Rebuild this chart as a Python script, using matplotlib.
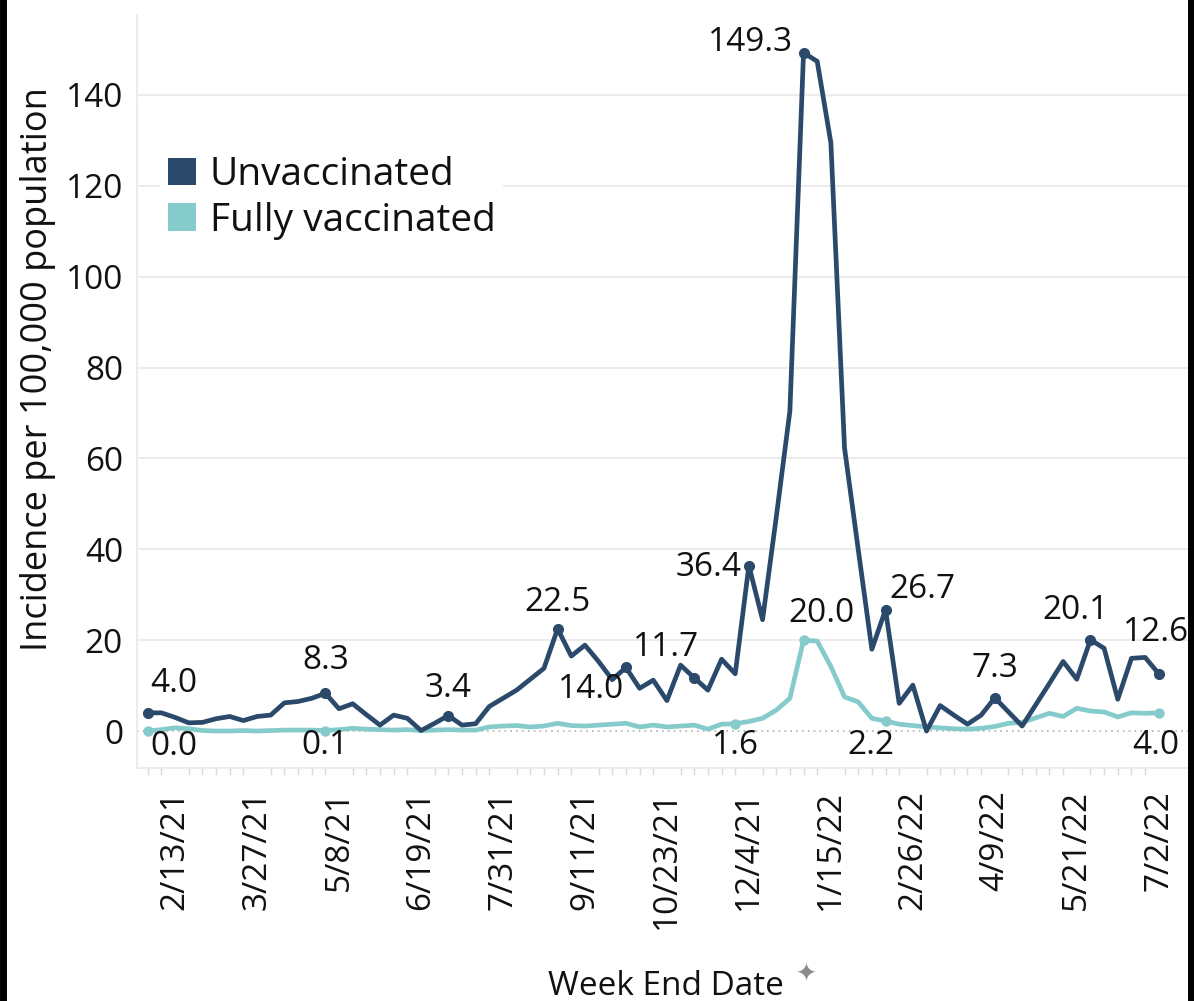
import numpy as np
import pandas as pd
import matplotlib
matplotlib.use("Agg")
import matplotlib.pyplot as plt
from matplotlib.patches import Patch
from matplotlib.lines import Line2D

plt.rcParams['font.family'] = ['Open Sans', 'DejaVu Sans']

# weekly incidence per 100,000 population, weeks ending 1/30/21 .. 7/2/22
first_week = '2021-01-30'
unvaccinated = [4.0, 4.0, 3.0, 1.8, 1.9, 2.7, 3.2, 2.3, 3.2, 3.5,
                6.2, 6.5, 7.2, 8.3, 4.9, 6.0, 3.6, 1.3, 3.5, 2.8,
                0.1, 1.7, 3.4, 1.3, 1.6, 5.4, 7.2, 9.0, 11.4, 13.8,
                22.5, 16.5, 18.9, 15.3, 11.3, 14.0, 9.4, 11.2, 6.7, 14.5,
                11.7, 9.0, 15.8, 12.6, 36.4, 24.5, 47.0, 70.4, 149.3, 147.4,
                129.5, 62.3, 40.0, 18.0, 26.7, 6.1, 10.1, 0.0, 5.6, 3.5,
                1.5, 3.5, 7.3, 4.2, 1.1, 5.8, 10.5, 15.3, 11.4, 20.1,
                18.2, 7.0, 16.0, 16.2, 12.6]
fully_vaccinated = [0.0, 0.3, 0.7, 0.5, 0.1, 0.0, 0.0, 0.1, 0.0, 0.1,
                    0.2, 0.2, 0.2, 0.1, 0.3, 0.6, 0.4, 0.3, 0.2, 0.3,
                    0.1, 0.2, 0.3, 0.2, 0.2, 0.9, 1.1, 1.2, 0.9, 1.1,
                    1.7, 1.2, 1.1, 1.3, 1.5, 1.7, 0.9, 1.3, 0.9, 1.1,
                    1.3, 0.4, 1.5, 1.6, 2.1, 2.8, 4.6, 7.2, 20.0, 19.8,
                    14.2, 7.5, 6.4, 2.8, 2.2, 1.5, 1.2, 0.9, 0.7, 0.5,
                    0.4, 0.6, 1.0, 1.7, 1.9, 2.9, 3.9, 3.2, 5.0, 4.4,
                    4.2, 3.1, 4.0, 3.9, 4.0]
tick_labels = ['2/13/21', '3/27/21', '5/8/21', '6/19/21', '7/31/21', '9/11/21',
               '10/23/21', '12/4/21', '1/15/22', '2/26/22', '4/9/22', '5/21/22',
               '7/2/22']
series_names = ['Unvaccinated', 'Fully vaccinated']

# weeks that carry a value label
unvacc_marked = [0, 13, 22, 30, 35, 40, 44, 48, 54, 62, 69, 74]
vacc_marked = [0, 13, 43, 48, 54, 74]

# label offsets in pixels, same order as above
unvacc_offsets = [(26, 29), (0, 33), (0, 27), (0, 26), (-35, -22), (-28, 30),
                  (-40, -2), (-53, 10), (37, 20), (0, 29), (-15, 29), (-3, 41)]
vacc_offsets = [(26, -15), (0, -15), (0, -22), (18, 27), (-15, -24), (-3, -33)]

dark = '#2b4a6b'
teal = '#86cbcc'
ink = '#111111'

week_end = pd.date_range(first_week, periods=len(unvaccinated), freq='7D')
tick_dates = pd.to_datetime(tick_labels, format='%m/%d/%y')

fig = plt.figure(figsize=(11.94, 10.01), dpi=100)
ax = fig.add_axes([137/1194, 1 - 768/1001, 1053/1194, 753/1001])

ax.plot(week_end, fully_vaccinated, color=teal, lw=3.4, solid_joinstyle='round', zorder=3)
ax.plot(week_end, unvaccinated, color=dark, lw=3.4, solid_joinstyle='round', zorder=4)
ax.plot(week_end[vacc_marked], np.array(fully_vaccinated)[vacc_marked], 'o',
        color=teal, ms=6.5, zorder=3)
ax.plot(week_end[unvacc_marked], np.array(unvaccinated)[unvacc_marked], 'o',
        color=dark, ms=7, zorder=4)

for i, (dx, dy) in zip(unvacc_marked, unvacc_offsets):
    ax.annotate('{:.1f}'.format(unvaccinated[i]), (week_end[i], unvaccinated[i]),
                xytext=(dx, dy), textcoords='offset pixels', ha='center', va='center',
                fontsize=24, color=ink, zorder=6)
for i, (dx, dy) in zip(vacc_marked, vacc_offsets):
    ax.annotate('{:.1f}'.format(fully_vaccinated[i]), (week_end[i], fully_vaccinated[i]),
                xytext=(dx, dy), textcoords='offset pixels', ha='center', va='center',
                fontsize=24, color=ink, zorder=6)

# zero line + grid
ax.axhline(0, color='#b0b0b0', lw=1.2, ls=(0, (1, 2.5)), zorder=2)
ax.set_yticks(np.arange(0, 141, 20))
for v in np.arange(20, 141, 20):
    ax.axhline(v, color='#ececec', lw=1.5, zorder=1)

ax.set_ylim(-8.14, 157.6)
ax.set_xlim(week_end[0] - pd.Timedelta(days=5.5), week_end[-1] + pd.Timedelta(days=16))

ax.set_xticks(tick_dates)
ax.set_xticklabels(tick_labels, rotation=90, fontsize=24, color=ink)
ax.set_xticks(week_end, minor=True)
ax.tick_params(axis='x', which='major', length=0, pad=16)
ax.tick_params(axis='x', which='minor', length=5, color='#d8d8d8', width=1)
ax.tick_params(axis='y', length=0, pad=10, labelsize=24, labelcolor=ink)

for s in ['top', 'right']:
    ax.spines[s].set_visible(False)
ax.spines['left'].set_color('#ececec')
ax.spines['bottom'].set_color('#ececec')
ax.spines['left'].set_linewidth(1.5)
ax.spines['bottom'].set_linewidth(1.5)

ax.set_ylabel('Incidence per 100,000 population', fontsize=26, color=ink)
ax.yaxis.set_label_coords(-0.077, 0.53)
ax.set_xlabel('Week End Date', fontsize=24, color=ink)
ax.xaxis.set_label_coords(0.502, -0.268)
fig.text(806/1194, 1 - 975/1001, '\u2726', fontsize=18, color='#8a8a8a', ha='center', va='center')

handles = [Patch(facecolor=dark, edgecolor='none'), Patch(facecolor=teal, edgecolor='none')]
leg = ax.legend(handles, series_names, loc='upper left', bbox_to_anchor=(0.022, 0.823),
                fontsize=28, frameon=True, facecolor='white', edgecolor='none', framealpha=1,
                handlelength=0.72, handleheight=0.72, handletextpad=0.35, labelspacing=0.2,
                borderpad=0.2, borderaxespad=0)
leg.set_zorder(5)
for t in leg.get_texts():
    t.set_color(ink)

# black screenshot border on left and right
fig.add_artist(Line2D([3/1194, 3/1194], [0, 1], color='black', lw=5, transform=fig.transFigure))
fig.add_artist(Line2D([1191/1194, 1191/1194], [0, 1], color='black', lw=5, transform=fig.transFigure))

fig.savefig('out.png', dpi=100)
